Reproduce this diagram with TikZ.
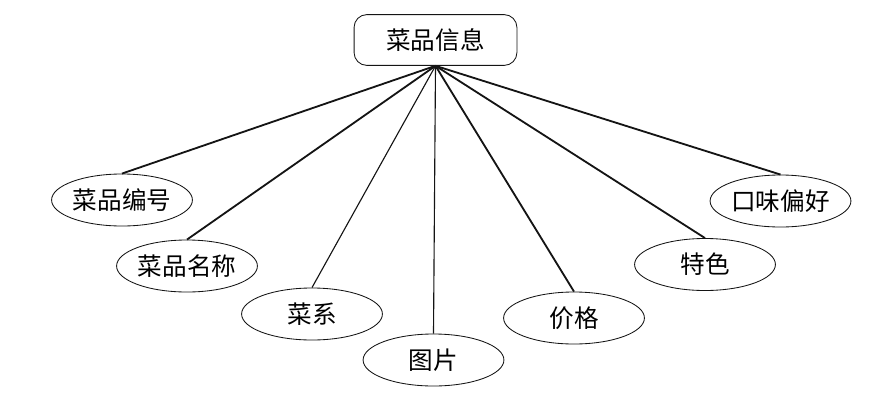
\documentclass[tikz,border=0pt]{standalone}
\usepackage{fontspec}
\newfontfamily\cjk{Noto Sans CJK SC}
\usepackage{tikz}
\usetikzlibrary{shapes.geometric}
\definecolor{mydark}{RGB}{20,20,20}
\tikzset{
  entity/.style={rectangle, draw=mydark, fill=white, rounded corners=0.32cm,
    minimum width=4.07cm, minimum height=1.27cm, inner sep=0pt,
    font=\cjk\fontsize{17.5}{20}\selectfont, line width=0.6pt},
  attr/.style={ellipse, draw=mydark, fill=white,
    minimum width=3.52cm, minimum height=1.3cm, inner sep=0pt,
    font=\cjk\fontsize{17.5}{20}\selectfont, line width=0.6pt},
  link/.style={color=mydark, line width=1.3pt},
  thinlink/.style={color=mydark, line width=0.8pt}
}
\begin{document}
\begin{tikzpicture}[x=0.025cm, y=-0.025cm]
  \useasboundingbox (0,0) rectangle (894,408);

  % entity
  \node[entity] (dish) at (435.5,40) {菜品信息};

  % attributes
  \node[attr] (num)   at (122,200)   {菜品编号};
  \node[attr] (name)  at (187,266)   {菜品名称};
  \node[attr] (cuis)  at (312,314)   {菜系};
  \node[attr] (pic)   at (433.5,360) {图片};
  \node[attr] (price) at (574,318)   {价格};
  \node[attr] (feat)  at (705,264.5) {特色};
  \node[attr] (taste) at (780.5,201) {口味偏好};

  % links
  \draw[link] (dish.south) -- (num.north);
  \draw[link] (dish.south) -- (name.north);
  \draw[thinlink] (dish.south) -- (cuis.north);
  \draw[thinlink] (dish.south) -- (pic.north);
  \draw[link] (dish.south) -- (price.north);
  \draw[link] (dish.south) -- (feat.north);
  \draw[link] (dish.south) -- (taste.north);
\end{tikzpicture}
\end{document}
